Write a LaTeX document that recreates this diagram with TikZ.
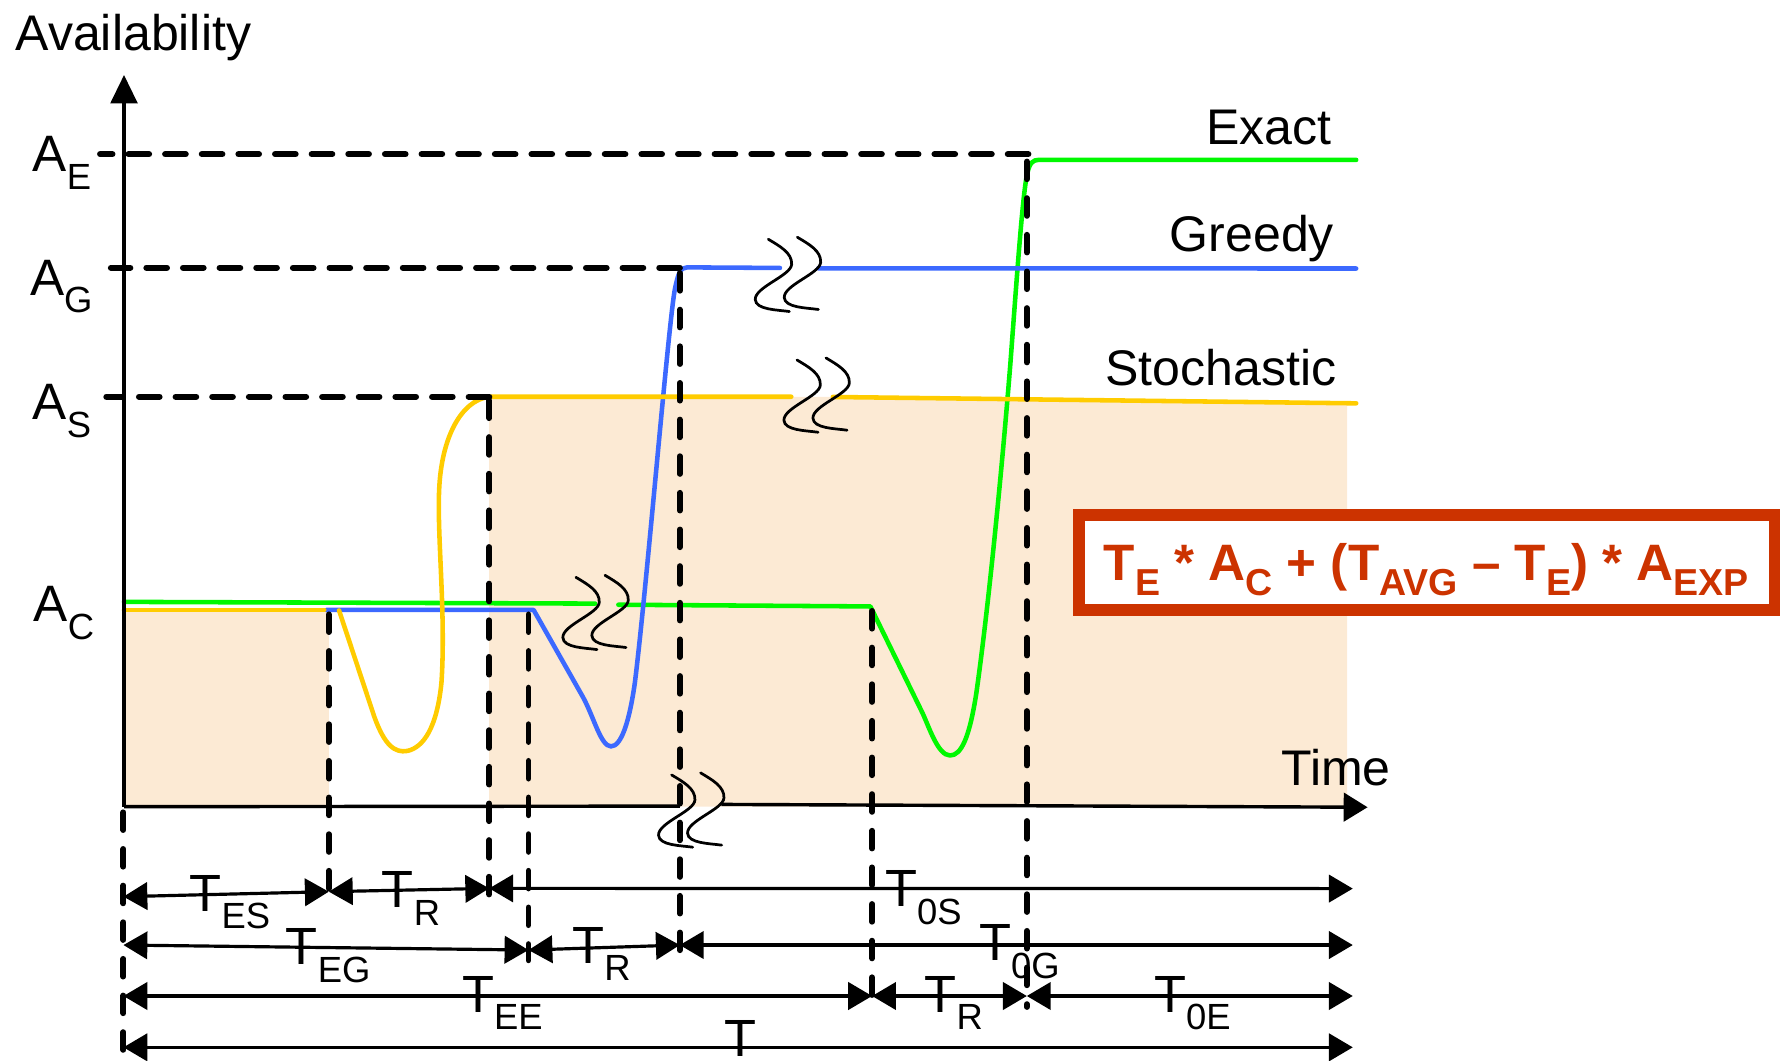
\documentclass[tikz,border=0pt]{standalone}
\usepackage{fontspec}
\setmainfont{Liberation Sans}
\usetikzlibrary{arrows.meta}
\definecolor{cgreen}{RGB}{0,248,0}
\definecolor{cblue}{RGB}{60,105,255}
\definecolor{cyellow}{RGB}{255,204,0}
\definecolor{cred}{RGB}{204,51,0}
\definecolor{cfill}{RGB}{252,234,212}
\newcommand\lsub[1]{\raisebox{-15.5pt}{\fontsize{32}{32}\selectfont #1}}
\newcommand\fsub[1]{\raisebox{-13.2pt}{\fontsize{33}{33}\selectfont #1}}
\tikzset{
  lbl/.style={inner sep=0pt, font=\fontsize{44}{48}\selectfont},
  sym/.style={inner sep=0pt, font=\fontsize{45}{48}\selectfont, anchor=base west},
  tl/.style={inner sep=0pt, font=\fontsize{46}{48}\selectfont, anchor=base west},
  hdash/.style={line width=5.4pt, dash pattern=on 18pt off 14.2pt, line cap=round},
  vdash/.style={line width=5.2pt, dash pattern=on 15.5pt off 16.7pt, line cap=round},
  axisline/.style={line width=3pt},
  dimline/.style={line width=2.8pt, {Triangle[length=21pt,width=24pt]}-{Triangle[length=21pt,width=24pt]}},
  curve/.style={line width=4pt, line cap=round, line join=round},
  brk/.style={line width=2.4pt, line cap=round},
  brksym/.pic={
    \draw[brk] (0,0) .. controls (10,6) and (21,12) .. (20.5,22) .. controls (20,32) and (-12,42) .. (-11.5,53) .. controls (-11,62) and (8,62) .. (18.5,63.5);
    \draw[brk, shift={(25.5,-1.8)}] (0,0) .. controls (10,6) and (21,12) .. (20.5,22) .. controls (20,32) and (-12,42) .. (-11.5,53) .. controls (-11,62) and (8,62) .. (18.5,63.5);
  }
}
\begin{document}
\begin{tikzpicture}[x=1pt,y=-1pt]
\useasboundingbox (0,0) rectangle (1568,932);

% key coordinates
\coordinate (o) at (109,709);
\coordinate (ytip) at (109,65.9);
\coordinate (xb1) at (597.6,708.5);
\coordinate (xb2) at (634,707);
\coordinate (xtip) at (1202,709.5);

% shaded areas
\fill[cfill] (109,536) rectangle (289,709);
\fill[cfill] (430,348.7) -- (732,348.9) -- (1184,354.4) -- (1184,709) -- (430,709) -- cycle;

% curves
\draw[curve, cgreen] (109,529) -- (523,530.5);
\draw[curve, cgreen] (543.5,531.5) -- (765,533) -- (810,625) .. controls (816,637) and (824,664) .. (835,664) .. controls (845,664) and (852,648) .. (858,610) .. controls (868,540) and (880,420) .. (888,320) .. controls (894,240) and (899,168) .. (903,152) .. controls (905,143) and (908,140.5) .. (913,140.5) -- (1192,140.5);
\draw[curve, cblue] (287,536.1) -- (469,536.1) -- (512,612) .. controls (522,630) and (528,656) .. (537,656) .. controls (546,656) and (553,635) .. (558,600) .. controls (568,520) and (587,290) .. (593,255) .. controls (596,240) and (598,235) .. (604,235) -- (685.5,235.5);
\draw[curve, cblue] (719.2,235.8) -- (1192,236);
\draw[curve, cyellow] (109,536.1) -- (285,536.1);
\draw[curve, cyellow] (298,536.5) -- (329,630) .. controls (338,655) and (347,662) .. (358,660) .. controls (372,657) and (384,640) .. (388,600) .. controls (392,540) and (384,470) .. (386,430) .. controls (388,385) and (405,352) .. (430,348.7) -- (695.5,348.7);
\draw[curve, cyellow] (732,348.9) -- (1192,354.5);

% level lines
\coordinate (aE1) at (903.8,135.5); \coordinate (aE0) at (88,135.5);
\coordinate (aG1) at (597.5,235.3); \coordinate (aG0) at (97.5,235.3);
\coordinate (aS1) at (430,348.7);   \coordinate (aS0) at (93.5,348.7);
\draw[hdash] (aE1) -- (aE0);
\draw[hdash] (aG1) -- (aG0);
\draw[hdash] (aS1) -- (aS0);

% vertical dashed lines
\draw[vdash] (108.5,714) -- (108.5,935);
\draw[vdash] (289,540) -- (289,790);
\draw[vdash] (430,352) -- (430,791);
\draw[vdash] (464.5,540) -- (464.5,844);
\draw[vdash] (597.5,240) -- (597.5,838);
\draw[vdash] (766.5,537) -- (766.5,885);
\draw[vdash] (902.5,142) -- (902.5,885);

% axes
\draw[axisline, -{Triangle[length=25pt,width=23.5pt]}] (o) -- (ytip);
\draw[axisline] (o) -- (xb1);
\draw[axisline, -{Triangle[length=21pt,width=25pt]}] (xb2) -- (xtip);

% break symbols
\pic (b1) at (675.3,210.3) {brksym};
\pic (b2) at (700.5,316.4) {brksym};
\pic (b3) at (506.2,507.4) {brksym};
\pic (b4) at (590.3,681.1) {brksym};

% dimension rows
\coordinate (r1a) at (108.5,788.1); \coordinate (r1b) at (289,783.7);
\coordinate (r1c) at (430,780.8);   \coordinate (r1d) at (1189,781);
\coordinate (r2a) at (108.5,830.6); \coordinate (r2b) at (464.5,835);
\coordinate (r2c) at (597.5,830.6); \coordinate (r2d) at (1189,830.6);
\coordinate (r3a) at (108.5,875.4); \coordinate (r3b) at (766.5,875.4);
\coordinate (r3c) at (902.5,875.4); \coordinate (r3d) at (1189,875.4);
\coordinate (r4a) at (108.5,920.5); \coordinate (r4d) at (1189,920.5);
\draw[dimline] (r1a) -- (r1b);
\draw[dimline] (r1b) -- (r1c);
\draw[dimline] (r1c) -- (r1d);
\draw[dimline] (r2a) -- (r2b);
\draw[dimline] (r2b) -- (r2c);
\draw[dimline] (r2c) -- (r2d);
\draw[dimline] (r3a) -- (r3b);
\draw[dimline] (r3b) -- (r3c);
\draw[dimline] (r3c) -- (r3d);
\draw[dimline] (r4a) -- (r4d);

% labels
\node[lbl, anchor=base west] (avail) at (13.5,44.5) {Availability};
\node[sym] (AE) at (28.6,150.9) {A\lsub{E}};
\node[sym] (AG) at (26.2,259.3) {A\lsub{G}};
\node[sym] (AS) at (28.6,368.6) {A\lsub{S}};
\node[sym] (AC) at (29.4,546.4) {A\lsub{C}};
\node[lbl, anchor=base east] (exact) at (1170.5,126.6) {Exact};
\node[lbl, anchor=base east] (greedy) at (1172.6,221.2) {Greedy};
\node[lbl, anchor=base east] (stoch) at (1174.7,338.4) {Stochastic};
\node[lbl, anchor=base west] (time) at (1126,690) {Time};

\node[tl] (tes) at (166.5,801) {T\lsub{ES}};
\node[tl] (tr1) at (335.5,798) {T\lsub{R}};
\node[tl] (t0s) at (777.8,796.9) {T\lsub{0S}};
\node[tl] (teg) at (251,848) {T\lsub{EG}};
\node[tl] (tr2) at (503,846.5) {T\lsub{R}};
\node[tl] (t0g) at (860.5,844.5) {T\lsub{0G}};
\node[tl] (tee) at (406,889.5) {T\lsub{EE}};
\node[tl] (tr3) at (812.4,889.5) {T\lsub{R}};
\node[tl] (t0e) at (1014.2,889.5) {T\lsub{0E}};
\node[tl] (tavg) at (636.7,929) {T};

% formula box
\node[draw=cred, line width=10pt, fill=white, minimum width=611pt, minimum height=83.5pt, inner sep=0pt] (box) at (1254,494.35) {};
\node[inner sep=0pt, anchor=base, text=cred, font=\fontsize{45}{48}\selectfont\bfseries] (formula) at (1253.6,509.8) {T\fsub{E} * A\fsub{C} + (T\fsub{AVG} – T\fsub{E}) * A\fsub{EXP}};
\end{tikzpicture}
\end{document}
